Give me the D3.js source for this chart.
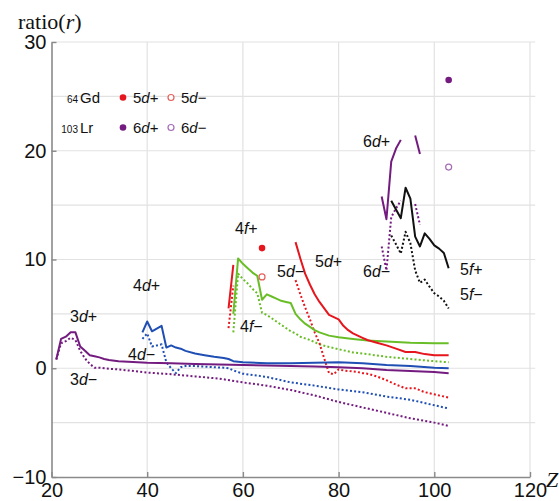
<!DOCTYPE html>
<html><head><meta charset="utf-8">
<script src="https://cdn.jsdelivr.net/npm/d3@7"></script>
<style>body{margin:0;background:#fff}svg{display:block}</style>
</head><body>
<svg id="c" width="559" height="501"></svg>
<script>
// ---- data (Z = atomic number, ratio r) ----
const xTicks = [20, 40, 60, 80, 100, 120];
const yTicks = [-10, 0, 10, 20, 30];
const gridX = [40, 60, 80, 100, 120];
const gridY = [-5, 0, 5, 10, 15, 20, 25, 30];

const z3d = [21,22,23,24,25,26,27,28,29,30,31,32,34,36,40,45,50,55,60,65,70,75,80,85,90,95,100,103];
const r3dPlus  = [0.8,2.7,2.9,3.3,3.3,2.0,1.6,1.2,1.1,1.0,0.85,0.75,0.65,0.6,0.5,0.45,0.4,0.35,0.3,0.25,0.2,0.15,0.1,0.0,-0.15,-0.25,-0.35,-0.45];
const r3dMinus = [0.8,2.3,2.5,2.8,2.6,1.6,0.9,0.4,0.05,0.05,0.0,-0.05,-0.1,-0.2,-0.4,-0.55,-0.75,-0.95,-1.3,-1.6,-2.0,-2.5,-3.1,-3.6,-4.1,-4.6,-5.0,-5.3];

const z4d = [39,40,41,42,43,44,45,46,47,48,50,52,54,56,57,58,60,65,70,75,80,85,90,95,100,103];
const r4dPlus  = [3.3,4.3,3.4,3.65,3.9,1.9,2.1,1.9,1.8,1.6,1.35,1.2,1.05,0.95,0.85,0.65,0.55,0.45,0.45,0.5,0.55,0.45,0.3,0.2,0.05,0.0];
const r4dMinus = [2.7,3.2,2.0,2.1,2.2,0.55,0.0,-0.45,0.1,0.2,0.2,0.15,0.1,0.05,0.0,-0.2,-0.5,-0.8,-1.3,-1.6,-1.95,-2.2,-2.6,-2.9,-3.4,-3.7];

const z4f = [58,59,60,61,62,63,64,65,66,67,68,69,70,71,72,73,74,75,76,78,80,83,86,90,95,100,103];
const r4fPlus  = [5.0,10.1,9.6,9.2,8.8,8.5,6.3,6.8,6.6,6.4,6.2,6.1,6.0,5.0,4.5,4.1,3.8,3.5,3.3,3.0,2.85,2.7,2.55,2.45,2.35,2.3,2.3];
const r4fMinus = [3.3,8.7,8.2,7.8,7.3,6.9,5.1,4.9,4.6,4.3,4.0,3.7,3.4,3.2,2.9,2.75,2.6,2.4,2.2,1.95,1.75,1.45,1.3,1.05,0.85,0.65,0.55];

// null marks a gap (no 5d electron)
const z5d = [57,58,59,71,72,73,74,75,76,77,78,79,80,81,82,83,84,85,86,88,90,92,94,96,98,100,103];
const r5dPlus  = [5.5,9.5,null,11.6,10.1,8.7,7.7,6.8,6.1,5.5,4.9,4.7,4.5,3.9,3.5,3.2,3.0,2.8,2.6,2.35,2.1,1.8,1.5,1.5,1.3,1.2,1.2];
const r5dMinus = [3.7,7.6,null,8.1,6.8,5.6,4.5,3.3,2.3,0.9,-0.45,-0.55,-0.1,-0.2,-0.25,-0.3,-0.35,-0.45,-0.5,-0.75,-1.1,-1.5,-1.85,-1.85,-2.2,-2.4,-2.7];

const z6d = [89,90,91,92,93,94,95,96,97];
const r6dPlus  = [15.8,13.7,19.0,20.2,21.0,null,null,21.4,19.7];
const r6dMinus = [11.2,9.0,13.9,14.7,15.4,null,null,15.1,13.2];

const z5f = [91,92,93,94,95,96,97,98,99,100,101,102,103];
const r5fPlus  = [15.4,14.6,13.8,16.6,15.6,12.1,11.2,12.4,11.9,11.3,11.0,10.6,9.2];
const r5fMinus = [12.2,11.4,10.55,12.55,11.5,9.0,7.85,8.15,7.5,6.9,6.6,6.2,5.5];

// single points: Gd (Z=64) 5d, Lr (Z=103) 6d
const gdZ = 64, gd5dPlus = 11.05, gd5dMinus = 8.4;
const lrZ = 103, lr6dPlus = 26.5, lr6dMinus = 18.5;

const colors = {purple:"#741b80", blue:"#1f4fb4", green:"#69be28", red:"#e5161d", black:"#111", openRed:"#e5605a", openPurple:"#a56cb6"};

// ---- drawing ----
const svg = d3.select("#c");
const x = d3.scaleLinear().domain([20,120]).range([51.5,530]);
const y = d3.scaleLinear().domain([-10,30]).range([477,42]);

// grid
svg.append("g").selectAll("line").data(gridY).join("line")
  .attr("x1", x(20)).attr("x2", x(121.1)).attr("y1", d=>y(d)).attr("y2", d=>y(d))
  .attr("stroke","#e2e2e2").attr("stroke-width",1.2);
svg.append("g").selectAll("line").data(gridX).join("line")
  .attr("x1", d=>x(d)).attr("x2", d=>x(d)).attr("y1", y(-10)).attr("y2", y(30))
  .attr("stroke","#e2e2e2").attr("stroke-width",1.2);

// axes
const ax = svg.append("g").attr("transform",`translate(0,${y(-10)})`)
  .call(d3.axisBottom(x).tickValues(xTicks).tickFormat(d3.format("d")).tickSizeInner(-5).tickSizeOuter(0).tickPadding(6));
const ay = svg.append("g").attr("transform",`translate(${x(20)},0)`)
  .call(d3.axisLeft(y).tickValues(yTicks).tickFormat(d3.format("d")).tickSizeInner(-5).tickSizeOuter(0).tickPadding(5));
[ax, ay].forEach(a=>{
  a.select(".domain").attr("stroke","#8a8a8a").attr("stroke-width",1.6);
  a.selectAll(".tick line").attr("stroke","#8a8a8a").attr("stroke-width",1.4);
  a.selectAll(".tick text").attr("font-family","Liberation Sans, Arial, sans-serif").attr("font-size",20).attr("fill","#111");
});

// axis titles
const yt = svg.append("text").attr("x",18).attr("y",29)
  .attr("font-family","Liberation Serif, Times New Roman, serif").attr("font-size",22).attr("fill","#111");
yt.append("tspan").text("ratio(");
yt.append("tspan").attr("font-style","italic").text("r");
yt.append("tspan").text(")");
svg.append("text").attr("x",546).attr("y",487)
  .attr("font-family","Liberation Serif, Times New Roman, serif").attr("font-size",22)
  .attr("font-style","italic").attr("fill","#111").text("Z");

// lines
function series(zs, rs){ return zs.map((z,i)=>({z, r: rs[i]})); }
const line = d3.line().defined(d=>d.r!==null).x(d=>x(d.z)).y(d=>y(d.r));
const plot = svg.append("g").attr("fill","none").attr("stroke-linejoin","round");
const curves = [
  [z3d, r3dMinus, colors.purple, true],
  [z4d, r4dMinus, colors.blue, true],
  [z4f, r4fMinus, colors.green, true],
  [z5d, r5dMinus, colors.red, true],
  [z6d, r6dMinus, colors.purple, true],
  [z5f, r5fMinus, colors.black, true],
  [z3d, r3dPlus, colors.purple, false],
  [z4d, r4dPlus, colors.blue, false],
  [z4f, r4fPlus, colors.green, false],
  [z5d, r5dPlus, colors.red, false],
  [z6d, r6dPlus, colors.purple, false],
  [z5f, r5fPlus, colors.black, false]
];
curves.forEach(([zs, rs, c, dotted])=>{
  plot.append("path").attr("d", line(series(zs, rs)))
    .attr("stroke", c).attr("stroke-width", 2)
    .attr("stroke-dasharray", dotted ? "2,2.2" : null);
});

// points
const pts = svg.append("g");
pts.append("circle").attr("cx",x(gdZ)).attr("cy",y(gd5dPlus)).attr("r",3.3).attr("fill",colors.red);
pts.append("circle").attr("cx",x(gdZ)).attr("cy",y(gd5dMinus)).attr("r",3).attr("fill","#fff").attr("stroke",colors.openRed).attr("stroke-width",1.2);
pts.append("circle").attr("cx",x(lrZ)).attr("cy",y(lr6dPlus)).attr("r",3.3).attr("fill",colors.purple);
pts.append("circle").attr("cx",x(lrZ)).attr("cy",y(lr6dMinus)).attr("r",3).attr("fill","#fff").attr("stroke",colors.openPurple).attr("stroke-width",1.2);

// curve labels
const lf = "Liberation Sans, Arial, sans-serif";
function orb(g, xx, yy, n, l, s){
  const t = g.append("text").attr("x",xx).attr("y",yy).attr("font-family",lf).attr("font-size",16).attr("fill","#111");
  t.append("tspan").text(n);
  t.append("tspan").attr("font-style","italic").text(l);
  t.append("tspan").text(s);
  return t;
}
const lab = svg.append("g");
const labels = [
  [70,322,"3","d","+"],[70,385,"3","d","\u2212"],
  [133,291,"4","d","+"],[128,360,"4","d","\u2212"],
  [235,234,"4","f","+"],[240,332,"4","f","\u2212"],
  [315,267,"5","d","+"],[277,277,"5","d","\u2212"],
  [363,147,"6","d","+"],[363,277,"6","d","\u2212"],
  [460,275,"5","f","+"],[460,300,"5","f","\u2212"]
];
labels.forEach(l=>orb(lab, ...l));

// legend
const leg = svg.append("g");
const legRows = [
  {sub:"64", el:"Gd", y:103, c:colors.red, oc:colors.openRed, n:"5"},
  {sub:"103", el:"Lr", y:133, c:colors.purple, oc:colors.openPurple, n:"6"}
];
legRows.forEach(r=>{
  leg.append("text").attr("x",78).attr("y",r.y).attr("text-anchor","end").attr("font-family",lf).attr("font-size",10).attr("fill","#111").text(r.sub);
  leg.append("text").attr("x",80).attr("y",r.y).attr("font-family",lf).attr("font-size",15).attr("fill","#111").text(r.el);
  leg.append("circle").attr("cx",123).attr("cy",r.y-5.5).attr("r",3.3).attr("fill",r.c);
  const t1 = leg.append("text").attr("x",133).attr("y",r.y).attr("font-family",lf).attr("font-size",15).attr("fill","#111");
  t1.append("tspan").text(r.n); t1.append("tspan").attr("font-style","italic").text("d"); t1.append("tspan").text("+");
  leg.append("circle").attr("cx",171).attr("cy",r.y-5.5).attr("r",3).attr("fill","#fff").attr("stroke",r.oc).attr("stroke-width",1.2);
  const t2 = leg.append("text").attr("x",181).attr("y",r.y).attr("font-family",lf).attr("font-size",15).attr("fill","#111");
  t2.append("tspan").text(r.n); t2.append("tspan").attr("font-style","italic").text("d"); t2.append("tspan").text("\u2212");
});
</script>
</body></html>
